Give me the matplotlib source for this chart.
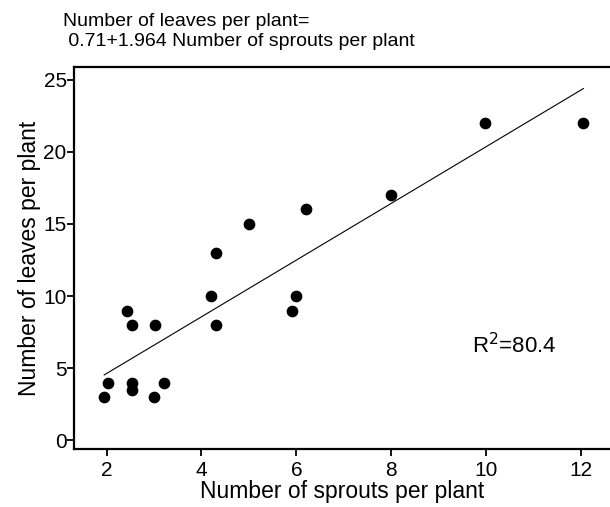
import matplotlib
matplotlib.use('Agg')
import matplotlib.pyplot as plt
import numpy as np

plt.rcParams['font.family'] = ['Liberation Sans', 'DejaVu Sans']

# sprouts per plant vs leaves per plant
sprouts = [1.95, 2.03, 2.44, 2.53, 2.53, 2.53, 3.02, 3.0, 3.21,
           4.21, 4.31, 4.31, 5.0, 5.9, 6.0, 6.2, 8.0, 9.98, 12.05]
leaves = [3, 4, 9, 8, 4, 3.5, 8, 3, 4,
          10, 13, 8, 15, 9, 10, 16, 17, 22, 22]

intercept = 0.71
slope = 1.964
r2 = 80.4

xticks = [2, 4, 6, 8, 10, 12]
yticks = [0, 5, 10, 15, 20, 25]

fig = plt.figure(figsize=(6.10, 5.07), dpi=100)
ax = fig.add_axes([0.1218, 0.1144, 0.8782, 0.7535])

ax.scatter(sprouts, leaves, s=55, color='black', zorder=3)
xl = np.array([min(sprouts), max(sprouts)])
ax.plot(xl, intercept + slope * xl, color='black', lw=0.8)

ax.set_xlim(1.32, 12.61)
ax.set_ylim(-0.59, 25.87)
ax.set_xticks(xticks)
ax.set_yticks(yticks)
ax.tick_params(labelsize=15, length=5, width=1.3, direction='out')
ax.tick_params(axis='x', pad=3.5)
ax.tick_params(axis='y', pad=0.5)
ax.spines['right'].set_visible(False)
for s in ['left', 'bottom', 'top']:
    ax.spines[s].set_linewidth(1.6)

ax.set_xlabel('Number of sprouts per plant', fontsize=16.5, labelpad=0)
ax.set_ylabel('Number of leaves per plant', fontsize=16.5, labelpad=2)

ax.text(9.7, 6.6, r'R$^2$=%.1f' % r2, fontsize=16, va='center', ha='left')

fig.text(0.103, 0.975, 'Number of leaves per plant=\n 0.71+1.964 Number of sprouts per plant',
         fontsize=14, va='top', ha='left', linespacing=1.25)

fig.savefig('out.png', dpi=100)
